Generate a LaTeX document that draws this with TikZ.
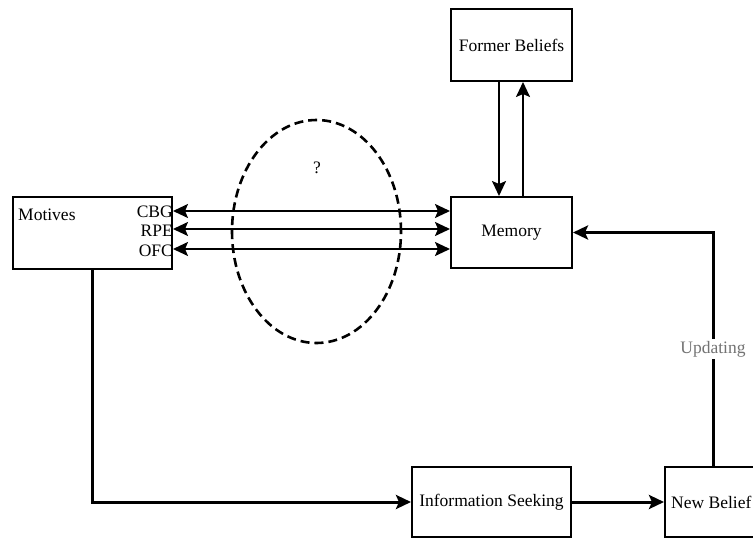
\documentclass[tikz,border=0pt]{standalone}
\usepackage{fontspec}
\setmainfont{Liberation Serif}
\usetikzlibrary{arrows.meta,shapes.geometric}
\begin{document}
\begin{tikzpicture}[x=1pt,y=-1pt,
  box/.style={draw, line width=2pt, inner sep=0pt, font=\fontsize{17.5}{20}\selectfont},
  lbl/.style={inner sep=0pt, font=\fontsize{17.5}{20}\selectfont},
  tip/.style={-{Stealth[length=15pt,width=14pt,inset=3pt]}},
  arr/.style={line width=2pt, tip},
  darr/.style={line width=2pt, {Stealth[length=15pt,width=14pt,inset=3pt]}-{Stealth[length=15pt,width=14pt,inset=3pt]}},
  thk/.style={line width=3pt, tip}]
\useasboundingbox (0,0) rectangle (753,538);
\clip (0,0) rectangle (753,538);

\node[box, minimum width=159pt, minimum height=72pt] (mot) at (92.5,233) {};
\node[lbl, anchor=west] (motlbl) at (18,215) {Motives};
\node[box, minimum width=121pt, minimum height=71pt] (mem) at (511.5,232.5) {Memory};
\node[box, minimum width=121pt, minimum height=72pt] (fb) at (511.5,45) {Former Beliefs};
\node[box, minimum width=159pt, minimum height=70pt] (info) at (491.5,502) {Information Seeking};
\node[box, minimum width=100pt, minimum height=70pt] (nb) at (715,502) {};
\node[lbl, anchor=west] (nblbl) at (671,502) {New Belief};

\node[draw, dashed, dash pattern=on 9pt off 5pt, line width=2.6pt, ellipse, minimum width=169pt, minimum height=223pt, inner sep=0pt] (ell) at (316.5,231.5) {};
\node[lbl] (q) at (317,168) {?};

\coordinate (c1) at ([yshift=22pt]mot.east);
\coordinate (c2) at ([yshift=4pt]mot.east);
\coordinate (c3) at ([yshift=-16pt]mot.east);
\node[lbl, anchor=east] (cbg) at ([yshift=-1pt]c1) {CBG};
\node[lbl, anchor=east] (rpe) at ([yshift=-2pt]c2) {RPE};
\node[lbl, anchor=east] (ofc) at ([yshift=-2pt]c3) {OFC};
\draw[darr] (c1) -- (c1 -| mem.west);
\draw[darr] (c2) -- (c2 -| mem.west);
\draw[darr] (c3) -- (c3 -| mem.west);

\draw[arr] ([xshift=-12.5pt]fb.south) -- ([xshift=-12.5pt]mem.north);
\draw[arr] ([xshift=11.5pt]mem.north) -- ([xshift=11.5pt]fb.south);

\draw[thk] (mot.south) |- (info.west);
\draw[thk] (info.east) -- (nb.west);
\draw[thk] ([xshift=-2pt]nb.north) |- node[pos=0.25, fill=white, text=black!55, inner sep=2pt, font=\fontsize{17.5}{20}\selectfont] (upd) {Updating} (mem.east);
\end{tikzpicture}
\end{document}
